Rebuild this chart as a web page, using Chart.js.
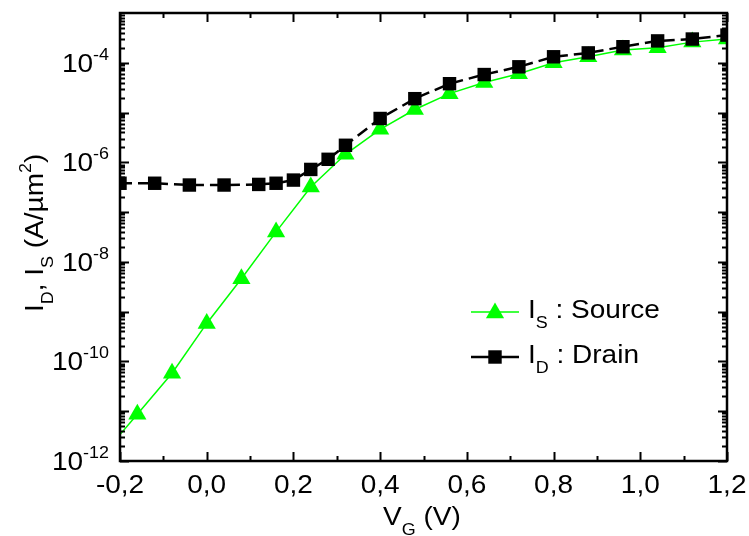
<!DOCTYPE html>
<html>
<head>
<meta charset="utf-8">
<script src="https://cdn.jsdelivr.net/npm/chart.js@4.4.1/dist/chart.umd.min.js"></script>
<style>
  html, body { margin: 0; background: #fff; }
  #wrap { width: 749px; height: 536px; position: relative; }
</style>
</head>
<body>
<div id="wrap"><canvas id="myCanvas"></canvas></div>
<script>
/* Values: gate voltage (V) and current density (A/um2). */
var drainVg = [-0.2, -0.12, -0.04, 0.04, 0.12, 0.16, 0.20, 0.24, 0.28, 0.32, 0.40, 0.48, 0.56, 0.64, 0.72, 0.80, 0.88, 0.96, 1.04, 1.12, 1.20];
var drainCurrent = [3.8e-7, 3.8e-7, 3.5e-7, 3.5e-7, 3.6e-7, 3.8e-7, 4.4e-7, 7.2e-7, 1.15e-6, 2.2e-6, 7.6e-6, 1.9e-5, 3.8e-5, 5.8e-5, 8.3e-5, 1.32e-4, 1.58e-4, 2.1e-4, 2.75e-4, 3.0e-4, 3.6e-4];

/* first source point sits on the axis edge, the line goes there but no marker is drawn */
var sourceVg = [-0.2, -0.16, -0.08, 0.0, 0.08, 0.16, 0.24, 0.32, 0.40, 0.48, 0.56, 0.64, 0.72, 0.80, 0.88, 0.96, 1.04, 1.12, 1.20];
var sourceCurrent = [3.4e-12, 8.7e-12, 5.8e-11, 5.8e-10, 4.6e-9, 4.0e-8, 3.2e-7, 1.45e-6, 4.6e-6, 1.15e-5, 2.4e-5, 4.0e-5, 6.0e-5, 1.0e-4, 1.32e-4, 1.8e-4, 2.0e-4, 2.6e-4, 3.0e-4];

/* tick labels */
var xTickValues = [-0.2, 0.0, 0.2, 0.4, 0.6, 0.8, 1.0, 1.2];
var xTickLabels = ['-0,2', '0,0', '0,2', '0,4', '0,6', '0,8', '1,0', '1,2'];
var yTickExps = [-12, -10, -8, -6, -4];

var FONT = '"Liberation Sans", Arial, sans-serif';
var SX = 1.12; /* the original lettering is a bit wide */

/* draws a run of pieces [text, kind] where kind is n, sub or sup */
function runWidth(ctx, parts) {
  var w = 0;
  parts.forEach(function(p) {
    var size = p[1] === 'n' ? 25 : 16;
    ctx.font = size + 'px ' + FONT;
    w += ctx.measureText(p[0]).width * SX;
  });
  return w;
}

function drawRun(ctx, parts, x, y) {
  parts.forEach(function(p) {
    var size = p[1] === 'n' ? 25 : 16;
    var dy = p[1] === 'sub' ? 10 : (p[1] === 'sup' ? -12 : 0);
    ctx.font = size + 'px ' + FONT;
    ctx.save();
    ctx.translate(x, y + dy);
    ctx.scale(SX, 1);
    ctx.fillText(p[0], 0, 0);
    ctx.restore();
    x += ctx.measureText(p[0]).width * SX;
  });
  return x;
}

function marker(ctx, style, radius, x, y, color) {
  ctx.fillStyle = color;
  if (Chart.helpers && Chart.helpers.drawPoint) {
    Chart.helpers.drawPoint(ctx, { pointStyle: style, radius: radius, rotation: 0, borderWidth: 0 }, x, y);
  }
}

/* frame, inward ticks, tick labels, axis titles and the legend */
var decorPlugin = {
  id: 'decor',
  afterDraw: function(chart) {
    var ctx = chart.ctx;
    var a = chart.chartArea;
    var xs = chart.scales.x;
    var ys = chart.scales.y;
    ctx.save();
    ctx.strokeStyle = '#000';
    ctx.fillStyle = '#000';
    ctx.setLineDash([]);

    /* x ticks, bottom and top */
    ctx.lineWidth = 2;
    ctx.beginPath();
    for (var i = 0; i <= 14; i++) {
      var px = Math.round(xs.getPixelForValue(-0.2 + i * 0.1)) + 0.5;
      var len = i % 2 === 0 ? 9 : 5;
      ctx.moveTo(px, a.bottom); ctx.lineTo(px, a.bottom - len);
      ctx.moveTo(px, a.top); ctx.lineTo(px, a.top + len);
    }
    /* y ticks, left and right, log minors */
    for (var e = -12; e <= -4; e++) {
      for (var m = 1; m <= 9; m++) {
        var py = Math.round(ys.getPixelForValue(m * Math.pow(10, e))) + 0.5;
        var l = m === 1 ? 9 : 5;
        ctx.moveTo(a.left, py); ctx.lineTo(a.left + l, py);
        ctx.moveTo(a.right, py); ctx.lineTo(a.right - l, py);
      }
    }
    ctx.stroke();

    /* frame */
    ctx.lineWidth = 2.5;
    ctx.strokeRect(a.left, a.top, a.right - a.left, a.bottom - a.top);

    /* x tick labels */
    xTickValues.forEach(function(v, k) {
      var parts = [[xTickLabels[k], 'n']];
      var w = runWidth(ctx, parts);
      drawRun(ctx, parts, xs.getPixelForValue(v) - w / 2, 493);
    });

    /* y tick labels */
    yTickExps.forEach(function(ex) {
      var parts = [['10', 'n'], [String(ex), 'sup']];
      var w = runWidth(ctx, parts);
      drawRun(ctx, parts, 109 - w, ys.getPixelForValue(Math.pow(10, ex)) + 9);
    });

    /* axis titles */
    drawRun(ctx, [['V', 'n'], ['G', 'sub'], [' (V)', 'n']], 383, 525);
    ctx.save();
    ctx.translate(43, 312);
    ctx.rotate(-Math.PI / 2);
    drawRun(ctx, [['I', 'n'], ['D', 'sub'], [', I', 'n'], ['S', 'sub'], [' (A/\u00b5m', 'n'], ['2', 'sup'], [')', 'n']], 0, 0);
    ctx.restore();

    /* legend */
    ctx.lineWidth = 1.5;
    ctx.strokeStyle = '#00ff00';
    ctx.beginPath(); ctx.moveTo(471, 312); ctx.lineTo(519, 312); ctx.stroke();
    marker(ctx, 'triangle', 10.5, 495, 313, '#00ff00');
    ctx.fillStyle = '#000';
    drawRun(ctx, [['I', 'n'], ['S', 'sub'], [' : Source', 'n']], 528, 318);

    ctx.lineWidth = 2.5;
    ctx.strokeStyle = '#000';
    ctx.beginPath(); ctx.moveTo(471, 357); ctx.lineTo(519, 357); ctx.stroke();
    marker(ctx, 'rect', 9.5, 495, 357, '#000');
    ctx.fillStyle = '#000';
    drawRun(ctx, [['I', 'n'], ['D', 'sub'], [' : Drain', 'n']], 528, 363);
    ctx.restore();
  }
};

function toPoints(xv, yv) {
  return xv.map(function(v, i) { return { x: v, y: yv[i] }; });
}

var myChart = new Chart(document.getElementById('myCanvas'), {
  type: 'line',
  data: {
    datasets: [{
        label: 'ID : Drain',
        data: toPoints(drainVg, drainCurrent),
        borderColor: '#000',
        backgroundColor: '#000',
        borderWidth: 2.5,
        borderDash: [12, 6],
        pointStyle: 'rect',
        pointRadius: 9.5,
        pointBorderWidth: 0,
        pointBackgroundColor: '#000',
        order: 0
      },
      {
        label: 'IS : Source',
        data: toPoints(sourceVg, sourceCurrent),
        borderColor: '#00ff00',
        backgroundColor: '#00ff00',
        borderWidth: 1.5,
        pointStyle: 'triangle',
        pointRadius: function(c) { return c.dataIndex === 0 ? 0 : 10.5; },
        pointBorderWidth: 0,
        pointBackgroundColor: '#00ff00',
        order: 1
    }]
  },
  options: {
    responsive: true,
    maintainAspectRatio: false,
    animation: false,
    layout: { padding: { left: 120, right: 22, top: 13, bottom: 75 } },
    plugins: {
      legend: { display: false },
      tooltip: { enabled: false }
    },
    scales: {
      x: { type: 'linear', min: -0.2, max: 1.2, display: false },
      y: { type: 'logarithmic', min: 1e-12, max: 1e-3, display: false }
    }
  },
  plugins: [decorPlugin]
} );
</script>
</body>
</html>
